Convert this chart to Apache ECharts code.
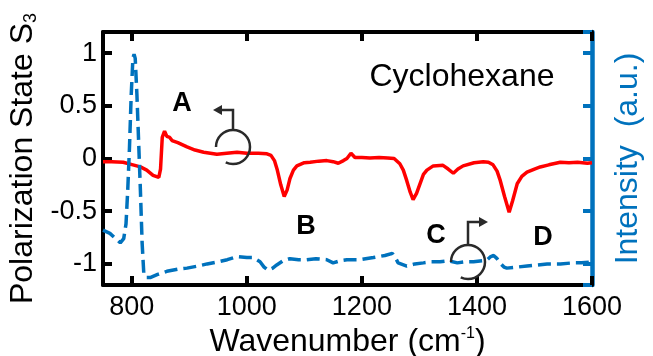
<!DOCTYPE html>
<html>
<head>
<meta charset="utf-8">
<script src="https://cdn.jsdelivr.net/npm/echarts@6/dist/echarts.min.js"></script>
<style>
html,body{margin:0;padding:0;background:#fff;}
#chart{width:653px;height:356px;}
</style>
</head>
<body>
<div id="chart"></div>
<script>
// ---- data ----
var s3Wavenumber = [750,765,785,802,815,826,837,847,850,853,857,861,866,870,880,896,910,925,948,965,983,1000,1020,1035,1042,1048,1053,1059,1065,1070,1075,1081,1087,1100,1110,1125,1139,1150,1159,1168,1174,1181,1188,1200,1214,1230,1245,1256,1266,1272,1278,1284,1289,1295,1301,1307,1313,1324,1341,1350,1359,1367,1376,1395,1411,1420,1428,1435,1440,1448,1456,1462,1470,1478,1487,1500,1510,1525,1545,1560,1575,1592,1600];
var s3Values = [-0.03,-0.03,-0.035,-0.06,-0.08,-0.11,-0.16,-0.18,-0.1,0.2,0.26,0.21,0.2,0.17,0.15,0.11,0.08,0.06,0.04,0.05,0.06,0.05,0.05,0.045,0.03,-0.02,-0.11,-0.25,-0.36,-0.3,-0.19,-0.11,-0.07,-0.04,-0.035,-0.025,-0.02,-0.03,-0.045,-0.02,0.0,0.05,0.01,0.01,0.005,0.01,0.005,0.0,-0.05,-0.11,-0.21,-0.32,-0.39,-0.33,-0.24,-0.15,-0.11,-0.07,-0.065,-0.1,-0.14,-0.1,-0.07,-0.04,-0.03,-0.035,-0.06,-0.12,-0.2,-0.36,-0.51,-0.4,-0.24,-0.17,-0.13,-0.1,-0.08,-0.06,-0.035,-0.04,-0.035,-0.045,-0.04];

var intWavenumber = [750,762,770,780,786,790,793,796,799,802,804,806,809,812,815,818,821,826,832,845,861,880,896,915,931,950,966,983,1000,1011,1023,1030,1037,1045,1052,1063,1075,1090,1104,1120,1139,1150,1162,1174,1197,1220,1240,1253,1258,1263,1278,1292,1307,1320,1336,1350,1366,1380,1394,1410,1418,1424,1429,1435,1440,1447,1452,1470,1487,1505,1522,1545,1567,1582,1600];
var intValues = [-0.68,-0.71,-0.75,-0.8,-0.76,-0.62,-0.3,0.1,0.6,0.95,0.99,0.95,0.6,0.15,-0.3,-0.8,-1.1,-1.13,-1.13,-1.1,-1.07,-1.05,-1.04,-1.02,-1.0,-0.98,-0.96,-0.93,-0.94,-0.94,-0.98,-1.03,-1.06,-1.04,-1.01,-0.97,-0.95,-0.96,-0.96,-0.95,-0.96,-0.99,-0.97,-0.96,-0.96,-0.94,-0.92,-0.9,-0.94,-0.99,-1.02,-1.0,-0.99,-0.98,-0.98,-0.97,-0.99,-0.98,-0.98,-0.97,-0.96,-0.93,-0.92,-0.95,-0.99,-1.03,-1.04,-1.03,-1.02,-1.01,-1.0,-1.0,-0.99,-0.99,-0.98];

var xTitle = 'Wavenumber (cm{sup|-1})';
var yTitle = 'Polarization State S{sub|3}';
var y2Title = 'Intensity  (a.u.)';
var sampleName = 'Cyclohexane';
var pointLabels = ['A','B','C','D'];

// ---- build ----
function pairs(xs, ys){ return xs.map(function(x,i){ return [x, ys[i]]; }); }
function plain(v){ return String(v); }

var FONT = 'Liberation Sans, Arial, Helvetica, sans-serif';
var DARK = '#000000';
var BLUE = '#0072bd';
var RED = '#ff0000';

var chart = echarts.init(document.getElementById('chart'), null, {renderer:'canvas'});

function frameAxis(color, width){
  return {
    axisLine:{show:true, onZero:false, lineStyle:{color:color, width:width}},
    axisTick:{show:true, inside:true, length:9, lineStyle:{color:color, width:4}}
  };
}

function arrowGroup(cx, cy, r, stemTopY, tipX, dir){
  var c = '#2a2a2a';
  var head = 9, hw = 5;
  var hx = tipX;
  return [
    {type:'arc', shape:{cx:cx, cy:cy, r:r, startAngle:Math.PI, endAngle:Math.PI*2 + Math.PI*0.64, clockwise:true},
     style:{stroke:c, lineWidth:2.5, fill:null}, z:100},
    {type:'polyline', shape:{points:[[cx, cy - r],[cx, stemTopY],[hx - dir*head + dir*1, stemTopY]]},
     style:{stroke:c, lineWidth:2.5, fill:null}, z:100},
    {type:'polygon', shape:{points:[[hx, stemTopY],[hx - dir*head, stemTopY - hw],[hx - dir*head, stemTopY + hw]]},
     style:{fill:c}, z:100}
  ];
}

var graphics = [
  {type:'text', x:462, y:77, style:{text:sampleName, font:'32px ' + FONT, fill:'#000', align:'center', verticalAlign:'middle'}, z:100},
  {type:'text', x:182, y:104, style:{text:pointLabels[0], font:'bold 27px ' + FONT, fill:'#000', align:'center', verticalAlign:'middle'}, z:100},
  {type:'text', x:306, y:227, style:{text:pointLabels[1], font:'bold 27px ' + FONT, fill:'#000', align:'center', verticalAlign:'middle'}, z:100},
  {type:'text', x:436, y:236, style:{text:pointLabels[2], font:'bold 27px ' + FONT, fill:'#000', align:'center', verticalAlign:'middle'}, z:100},
  {type:'text', x:543, y:238, style:{text:pointLabels[3], font:'bold 27px ' + FONT, fill:'#000', align:'center', verticalAlign:'middle'}, z:100}
].concat(arrowGroup(233, 147, 17, 110, 213, -1)).concat(arrowGroup(468, 262, 17, 222, 488, 1));

var option = {
  animation:false,
  backgroundColor:'#fff',
  grid:{left:103, right:61, top:32, bottom:71, containLabel:false, outerBoundsMode:'none'},
  xAxis:[
    Object.assign({type:'value', min:750, max:1600, splitLine:{show:false}, position:'bottom',
      axisLabel:{show:true, showMinLabel:false, formatter:plain, fontSize:27, color:'#000', fontFamily:FONT, margin:9},
      name:xTitle, nameLocation:'middle', nameGap:38,
      nameTextStyle:{fontSize:32, color:'#000', fontFamily:FONT,
        rich:{sup:{fontSize:16, color:'#000', fontFamily:FONT, verticalAlign:'top', padding:[0,0,14,0]}}}
    }, frameAxis(DARK, 4)),
    Object.assign({type:'value', min:750, max:1600, splitLine:{show:false}, position:'top',
      axisLabel:{show:false}}, frameAxis(DARK, 4))
  ],
  yAxis:[
    Object.assign({type:'value', min:-1.2, max:1.2, position:'left',
     splitLine:{show:false},
     axisLabel:{showMinLabel:false, showMaxLabel:false, formatter:plain, fontSize:27, color:'#000', fontFamily:FONT, margin:6},
     name:yTitle, nameLocation:'middle', nameGap:53, nameRotate:90,
     nameTextStyle:{fontSize:32, color:'#000', fontFamily:FONT,
       rich:{sub:{fontSize:18, color:'#000', fontFamily:FONT, verticalAlign:'bottom'}}}
    }, frameAxis(DARK, 4)),
    Object.assign({type:'value', min:-1.2, max:1.2, position:'right',
     splitLine:{show:false},
     axisLabel:{show:false},
     name:y2Title, nameLocation:'middle', nameGap:20, nameRotate:90,
     nameTextStyle:{fontSize:32, color:BLUE, fontFamily:FONT}
    }, frameAxis(BLUE, 4.5))
  ],
  series:[
    {type:'line', name:'S3', xAxisIndex:0, yAxisIndex:0, data:pairs(s3Wavenumber, s3Values),
     showSymbol:false, symbol:'none', lineStyle:{color:RED, width:3.5}, itemStyle:{color:RED}, z:3},
    {type:'line', name:'Intensity', xAxisIndex:0, yAxisIndex:1, data:pairs(intWavenumber, intValues),
     showSymbol:false, symbol:'none', lineStyle:{color:BLUE, width:3.5, type:[13,6]}, itemStyle:{color:BLUE}, z:4}
  ],
  graphic:graphics
};
chart.setOption(option);
</script>
</body>
</html>
